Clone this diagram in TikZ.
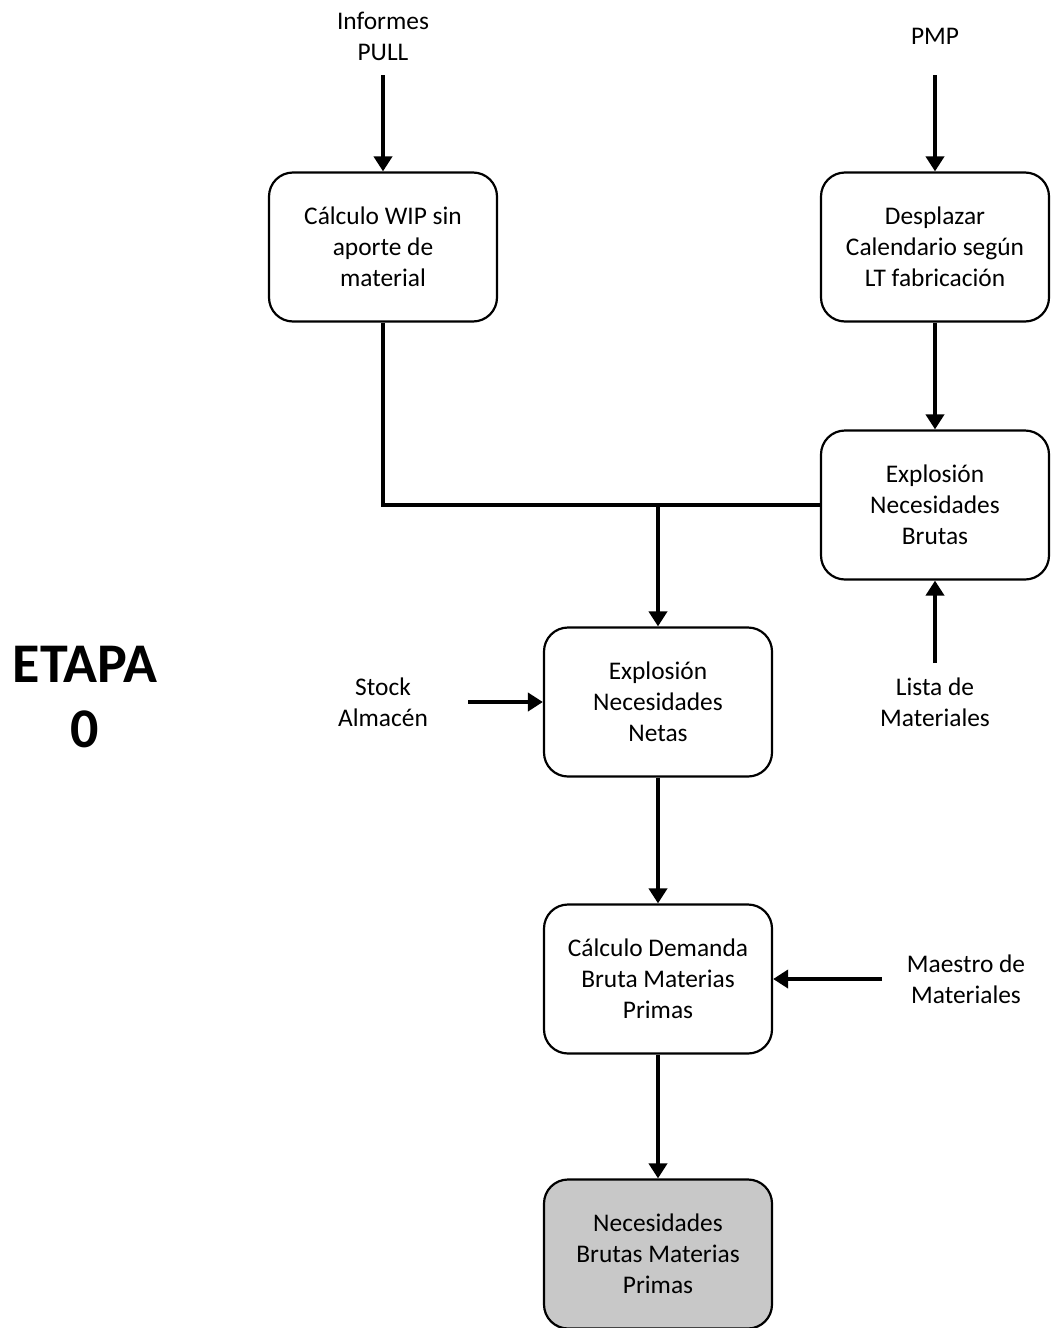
\documentclass[tikz,border=0pt]{standalone}
\usepackage{fontspec}
\setmainfont{Carlito}
\usetikzlibrary{arrows.meta}
\begin{document}
\begin{tikzpicture}[x=1pt,y=-1pt,
  procbox/.style={draw, line width=2.2pt, rounded corners=24pt, minimum width=228pt,
    minimum height=149pt, align=center,
    font=\fontsize{25.4}{31}\selectfont},
  lbl/.style={align=center, font=\fontsize{25.4}{31}\selectfont},
  flow/.style={line width=4.8pt, -{Triangle[width=18pt,length=15pt]}},
  link/.style={line width=4.8pt}]
\useasboundingbox (0,0) rectangle (1052,1328);

% process boxes
\node[procbox] (wip) at (383,247) {Cálculo WIP sin\\aporte de\\material};
\node[procbox] (desp) at (935,247) {Desplazar\\Calendario según\\LT fabricación};
\node[procbox] (nb) at (935,505) {Explosión\\Necesidades\\Brutas};
\node[procbox] (nn) at (658,702) {Explosión\\Necesidades\\Netas};
\node[procbox] (cd) at (658,979) {Cálculo Demanda\\Bruta Materias\\Primas};
\node[procbox, fill={rgb,255:red,200;green,200;blue,200}] (res) at (658,1254) {Necesidades\\Brutas Materias\\Primas};

% inputs
\node[lbl] (pull) at (383,36) {Informes\\PULL};
\node[lbl] (pmp) at (935,36) {PMP};
\node[lbl] (lista) at (935,702) {Lista de\\Materiales};
\node[lbl] (stock) at (383,702) {Stock\\Almacén};
\node[lbl] (maestro) at (966,979) {Maestro de\\Materiales};

\node[font=\fontsize{56}{65}\selectfont\bfseries, align=center] (etapa) at (85,697) {ETAPA\\0};

% anchor points for the free arrow tails
\coordinate (pullEnd) at (383,75);
\coordinate (pmpEnd) at (935,75);
\coordinate (listaEnd) at (935,663);
\coordinate (stockEnd) at (468,702);
\coordinate (maestroEnd) at (882,979);

% connectors
\draw[flow] (pullEnd) -- (wip.north);
\draw[flow] (pmpEnd) -- (desp.north);
\draw[flow] (desp.south) -- (nb.north);
\draw[flow] (listaEnd) -- (nb.south);
\draw[flow] (stockEnd) -- (nn.west);
\draw[flow] (maestroEnd) -- (cd.east);
\draw[flow] (nn.south) -- (cd.north);
\draw[flow] (cd.south) -- (res.north);

\coordinate (j) at (nn.north |- nb.west);
\draw[link] (wip.south) |- (nb.west);
\draw[flow] (j) -- (nn.north);
\end{tikzpicture}
\end{document}
